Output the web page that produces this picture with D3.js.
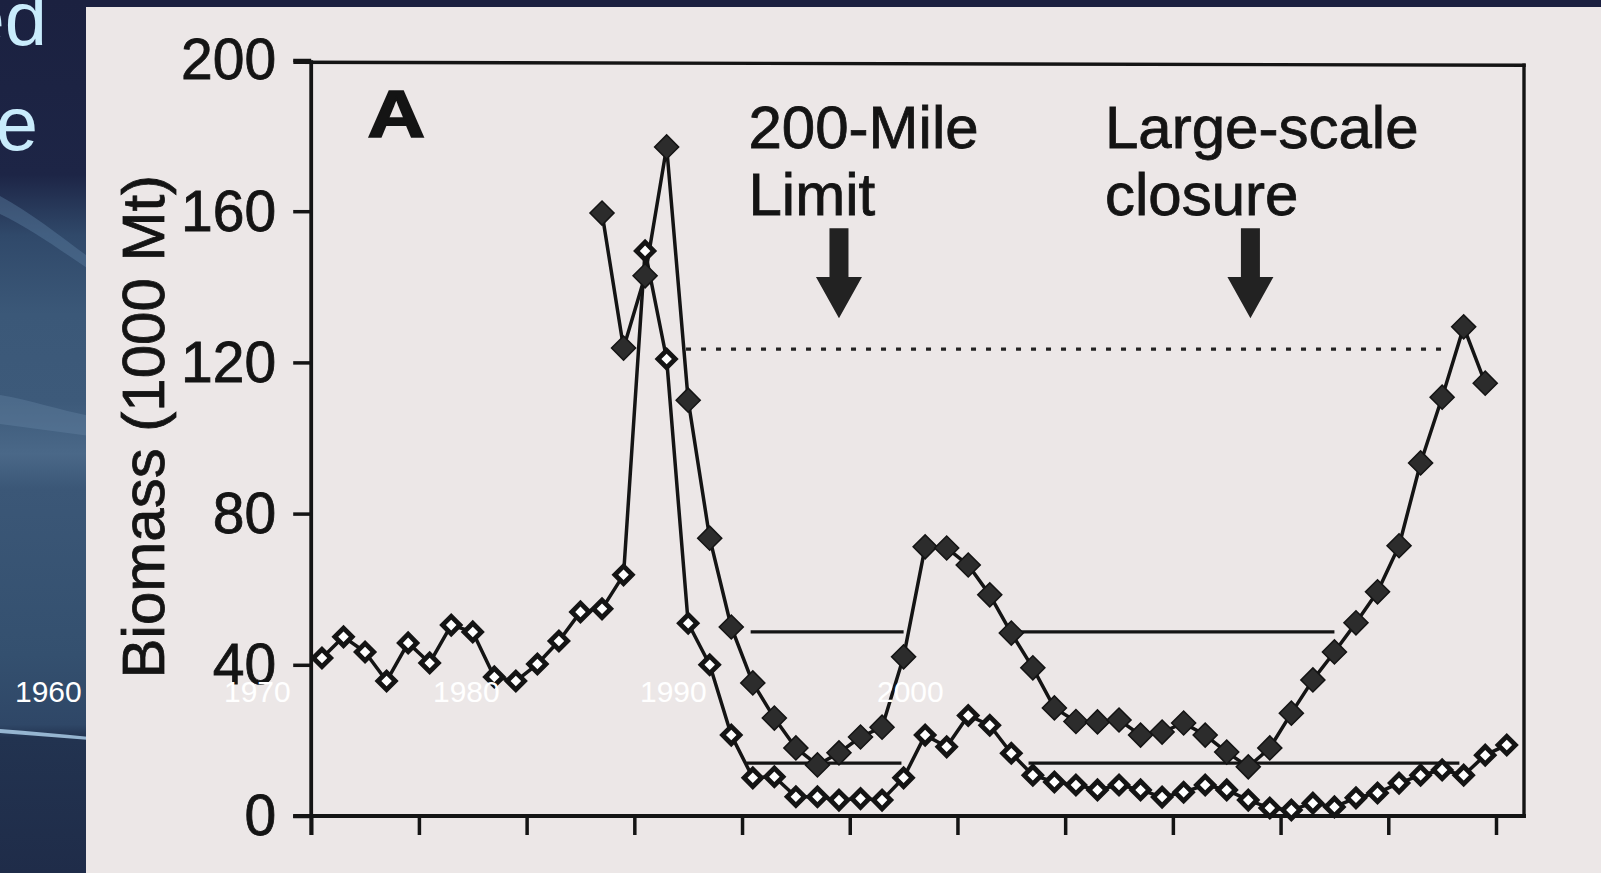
<!DOCTYPE html>
<html>
<head>
<meta charset="utf-8">
<script src="https://cdn.jsdelivr.net/npm/d3@7"></script>
<style>
  html, body { margin: 0; padding: 0; background: #1b2040; overflow: hidden; }
  svg { display: block; }
</style>
</head>
<body>
<svg id="slide" width="1601" height="873"></svg>
<script>
// Annual biomass series (thousand metric tons)
const surveyYears = d3.range(1950, 2006);
const surveyBiomass = [41.8, 47.4, 43.4, 35.7, 45.8, 40.5, 50.5, 48.7, 36.8, 35.7,
  40.2, 46.3, 54.0, 54.8, 63.8, 149.5, 120.9, 51.0, 40.0, 21.4,
  10.1, 10.4, 5.1, 5.1, 4.2, 4.6, 4.2, 10.1, 21.4, 18.3,
  26.6, 24.0, 16.6, 10.8, 9.0, 8.2, 6.9, 8.2, 6.9, 5.0,
  6.3, 8.2, 6.9, 4.2, 2.1, 1.6, 3.4, 2.4, 4.8, 6.1,
  8.7, 10.8, 12.2, 10.8, 16.1, 18.8];

const stockYears = d3.range(1963, 2005);
const stockBiomass = [159.5, 123.8, 142.9, 177, 110, 73.5, 50.0, 35.2, 25.9, 18.0,
  13.5, 16.7, 20.9, 23.5, 42.1, 71.2, 70.9, 66.4, 58.5, 48.4,
  39.2, 28.6, 25.0, 24.9, 25.4, 21.4, 22.2, 24.6, 21.4, 16.9,
  13.0, 18.0, 27.2, 36.0, 43.4, 51.1, 59.3, 71.5, 93.4, 110.8,
  129.4, 114.5];

// Reference level (dotted) and low-biomass periods (solid)
const referenceLevel = { value: 123.5, from: 1967.4, to: 2002.5 };
const lowPeriods = [
  { value: 48.7, from: 1970.4, to: 1977.5 },
  { value: 48.7, from: 1982.8, to: 1997.5 },
  { value: 14.0, from: 1970.2, to: 1977.4 },
  { value: 14.0, from: 1983.3, to: 2003.3 }
];

// Management events
const events = [
  { lines: ["200-Mile", "Limit"], year: 1974.5, labelYear: 1970.3 },
  { lines: ["Large-scale", "closure"], year: 1993.6, labelYear: 1986.85 }
];

const yTicks = [0, 40, 80, 120, 160, 200];
const xTicks = d3.range(1950, 2006, 5);
const slideYears = ["1960", "1970", "1980", "1990", "2000"];

const FONT = "'Liberation Sans', Arial, Helvetica, sans-serif";
const INK = "#141414";

const svg = d3.select("#slide");

// ---- slide backdrop ----
const defs = svg.append("defs");
const grad = defs.append("linearGradient").attr("id", "strip")
  .attr("x1", 0).attr("y1", 0).attr("x2", 0).attr("y2", 1);
[[0, "#1b2140"], [0.2, "#1d2546"], [0.27, "#30496a"], [0.36, "#3b5878"],
 [0.46, "#3d5a7a"], [0.52, "#4a6888"], [0.56, "#3b5777"], [0.75, "#34506f"],
 [0.83, "#2f4767"], [0.845, "#223350"], [1, "#1f2c49"]]
  .forEach(([o, c]) => grad.append("stop").attr("offset", o).attr("stop-color", c));

svg.append("rect").attr("width", 1601).attr("height", 873).attr("fill", "#1b2040");
svg.append("rect").attr("x", 0).attr("y", 0).attr("width", 90).attr("height", 873)
  .attr("fill", "url(#strip)");
// light swoosh streaks on the strip
svg.append("path").attr("d", "M0,196 C30,212 60,236 90,258 L90,270 C60,250 30,228 0,214 Z")
  .attr("fill", "#5f82a4").attr("opacity", 0.4);
svg.append("path").attr("d", "M0,395 C30,400 60,410 90,416 L90,436 C60,432 30,428 0,424 Z")
  .attr("fill", "#6a8aa9").attr("opacity", 0.35);
svg.append("path").attr("d", "M0,729 C30,731 60,734 90,737 L90,740 C60,738 30,735 0,733 Z")
  .attr("fill", "#a9cbe6").attr("opacity", 0.85);

// partly covered slide title
const title = svg.append("g").attr("font-family", FONT).attr("font-size", 76)
  .attr("fill", "#c9ecfc").attr("text-anchor", "end");
title.append("text").attr("x", 47).attr("y", 45).text("ed");
title.append("text").attr("x", 38).attr("y", 150).text("e");

// scanned figure panel
svg.append("rect").attr("x", 86).attr("y", 7).attr("width", 1515).attr("height", 866)
  .attr("fill", "#ece7e7");

// ---- chart ----
const x = d3.scaleLinear().domain([1950, 2006.3]).range([311.2, 1524]);
const y = d3.scaleLinear().domain([0, 200]).range([816, 60]);
const mid = yr => x(yr + 0.5);

const chart = svg.append("g");

// y axis
const yAxis = chart.append("g").attr("transform", `translate(${x(1950)},0)`)
  .call(d3.axisLeft(y).tickValues(yTicks).tickSize(18).tickPadding(17).tickSizeOuter(0));
yAxis.select(".domain").remove();
yAxis.selectAll(".tick line").attr("stroke", INK).attr("stroke-width", 3.5);
yAxis.selectAll(".tick text").attr("font-family", FONT).attr("font-size", 57)
  .attr("fill", INK).attr("stroke", INK).attr("stroke-width", 0.8).attr("dy", "0.33em");

// x axis (unlabelled ticks)
const xAxis = chart.append("g").attr("transform", `translate(0,${y(0)})`)
  .call(d3.axisBottom(x).tickValues(xTicks).tickSize(19).tickFormat("").tickSizeOuter(0));
xAxis.select(".domain").remove();
xAxis.selectAll(".tick line").attr("stroke", INK).attr("stroke-width", 3.5);

// frame lines
const frame = chart.append("g").attr("stroke", INK).attr("fill", "none").attr("stroke-linecap", "square");
frame.append("line").attr("x1", x(1950)).attr("x2", x(1950))
  .attr("y1", y(199.4)).attr("y2", y(-4.5)).attr("stroke-width", 3.8);
frame.append("line").attr("x1", x(1949.25)).attr("x2", x(2006.3))
  .attr("y1", y(0)).attr("y2", y(0)).attr("stroke-width", 3.8);
frame.append("line").attr("x1", x(1949.25)).attr("x2", x(2006.3))
  .attr("y1", y(199.4)).attr("y2", y(198.6)).attr("stroke-width", 3.4);
frame.append("line").attr("x1", x(2006.3)).attr("x2", x(2006.3))
  .attr("y1", y(198.6)).attr("y2", y(0)).attr("stroke-width", 3.4);

// panel letter
chart.append("text").attr("x", x(1952.6)).attr("y", y(179.6))
  .attr("font-family", FONT).attr("font-weight", "bold").attr("font-size", 66)
  .attr("textLength", 58).attr("lengthAdjust", "spacingAndGlyphs")
  .attr("fill", INK).attr("stroke", INK).attr("stroke-width", 1.5).text("A");

// reference levels
chart.append("line")
  .attr("x1", x(referenceLevel.from)).attr("x2", x(referenceLevel.to))
  .attr("y1", y(referenceLevel.value)).attr("y2", y(referenceLevel.value))
  .attr("stroke", "#222").attr("stroke-width", 3.2).attr("stroke-dasharray", "5 10");
chart.selectAll(".low").data(lowPeriods).join("line").attr("class", "low")
  .attr("x1", d => x(d.from)).attr("x2", d => x(d.to))
  .attr("y1", d => y(d.value)).attr("y2", d => y(d.value))
  .attr("stroke", INK).attr("stroke-width", 3.2);

// event annotations
const ev = chart.selectAll(".event").data(events).join("g").attr("class", "event");
ev.each(function (d) {
  const g = d3.select(this);
  const t = g.append("text").attr("font-family", FONT).attr("font-size", 60)
    .attr("fill", INK).attr("stroke", INK).attr("stroke-width", 0.8);
  d.lines.forEach((ln, i) => {
    t.append("tspan").attr("x", x(d.labelYear)).attr("y", i === 0 ? y(176.7) : y(159)).text(ln);
  });
  const cx = x(d.year);
  const top = y(155.5), base = y(142.6), tip = y(131.7);
  g.append("path")
    .attr("d", `M${cx - 9.5},${top} L${cx + 9.5},${top} L${cx + 9.5},${base} L${cx + 23},${base}
                L${cx},${tip} L${cx - 23},${base} L${cx - 9.5},${base} Z`)
    .attr("fill", "#222");
});

// series lines
const line = d3.line().x(d => mid(d[0])).y(d => y(d[1]));
const surveyPts = surveyYears.map((yr, i) => [yr, surveyBiomass[i]]);
const stockPts = stockYears.map((yr, i) => [yr, stockBiomass[i]]);

chart.append("path").datum(surveyPts).attr("d", line)
  .attr("fill", "none").attr("stroke", INK).attr("stroke-width", 3.5).attr("stroke-linejoin", "round");
chart.append("path").datum(stockPts).attr("d", line)
  .attr("fill", "none").attr("stroke", INK).attr("stroke-width", 3.5).attr("stroke-linejoin", "round");

// markers
const openSym = d3.symbol(d3.symbolSquare, 150);
const fillSym = d3.symbol(d3.symbolSquare, 290);

chart.selectAll(".open").data(surveyPts).join("path").attr("class", "open")
  .attr("d", openSym)
  .attr("transform", d => `translate(${mid(d[0])},${y(d[1])}) rotate(45)`)
  .attr("fill", "#ffffff").attr("stroke", INK).attr("stroke-width", 4.8);

chart.selectAll(".filled").data(stockPts).join("path").attr("class", "filled")
  .attr("d", fillSym)
  .attr("transform", d => `translate(${mid(d[0])},${y(d[1])}) rotate(45)`)
  .attr("fill", "#2c2c2c").attr("stroke", INK).attr("stroke-width", 1.5);

// y axis title
chart.append("text")
  .attr("transform", `translate(164,${y(103)}) rotate(-90)`)
  .attr("text-anchor", "middle").attr("font-family", FONT).attr("font-size", 60)
  .attr("fill", INK).attr("stroke", INK).attr("stroke-width", 0.8).text("Biomass (1000 Mt)");

// slide year captions laid over the figure
const captionX = d3.scaleOrdinal().domain(slideYears).range([15, 224, 433, 640, 877]);
svg.append("g").selectAll("text").data(slideYears).join("text")
  .attr("x", d => captionX(d)).attr("y", 702)
  .attr("font-family", FONT).attr("font-size", 30).attr("fill", "#ffffff")
  .text(d => d);
</script>
</body>
</html>
